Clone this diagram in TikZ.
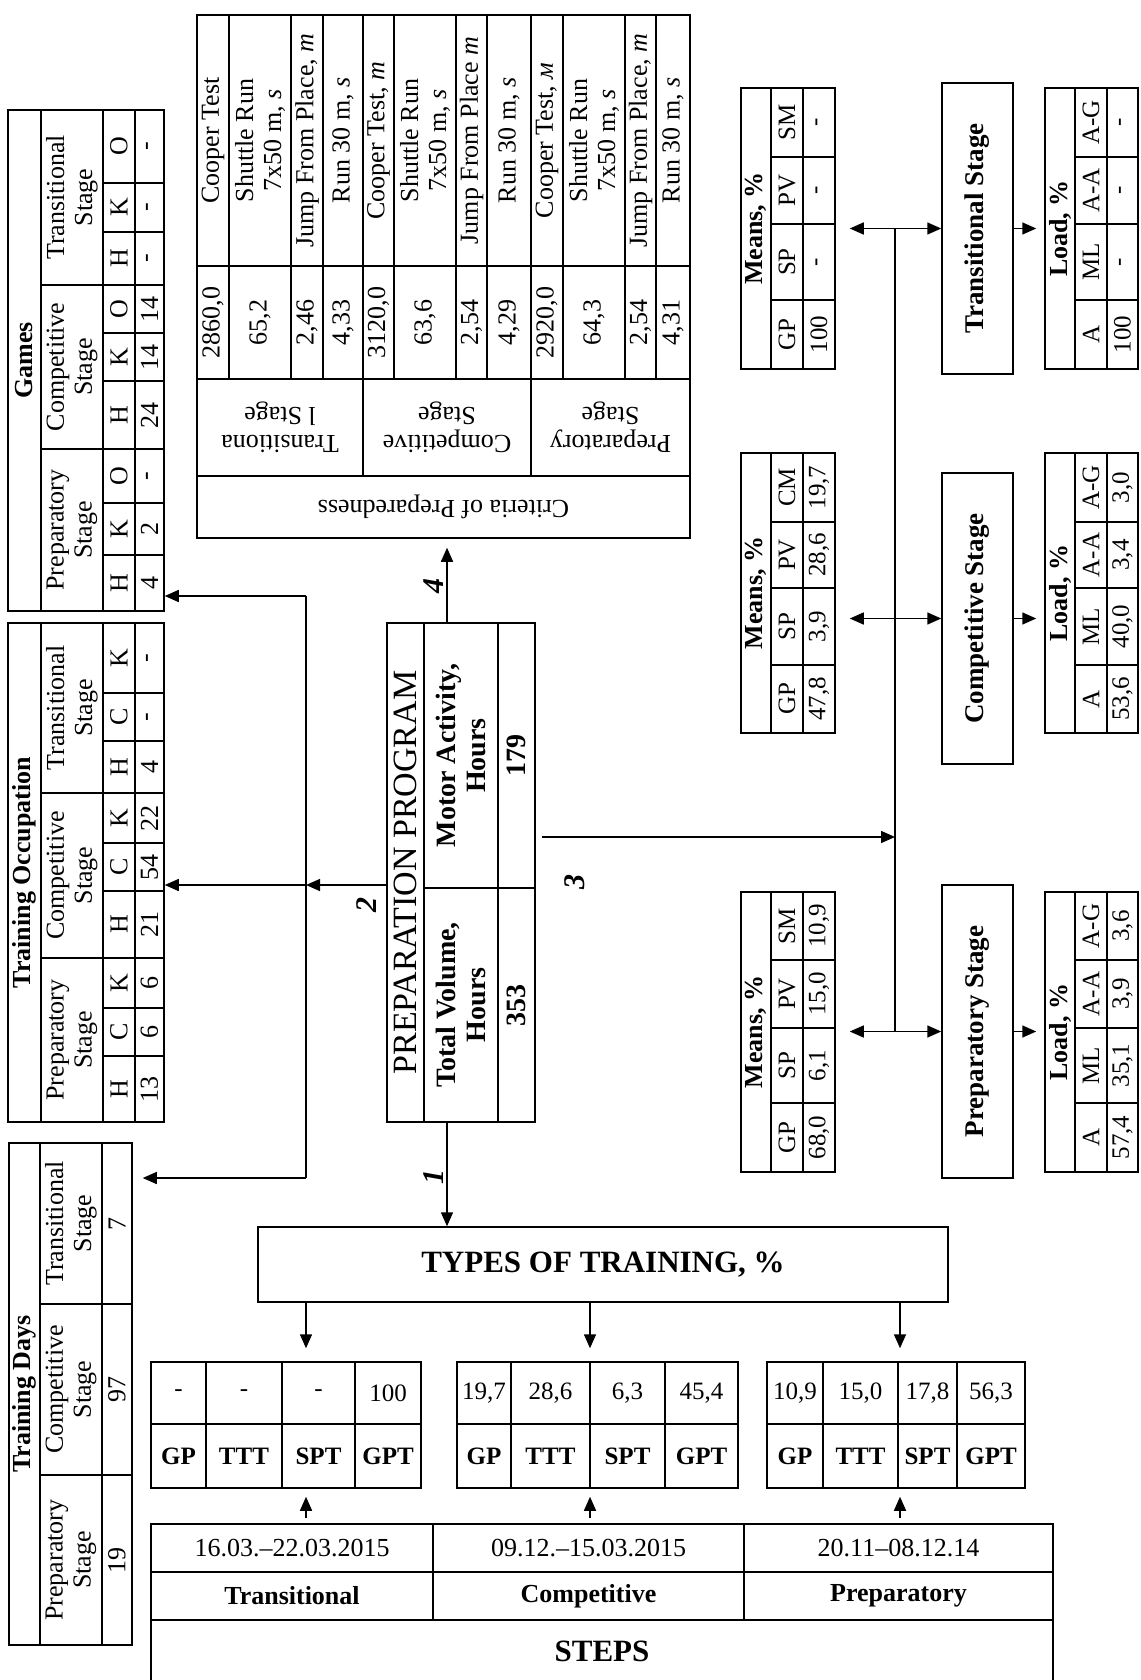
\documentclass[tikz,border=0pt]{standalone}
\usepackage{fontspec}
\setmainfont{Liberation Serif}
\usetikzlibrary{arrows.meta}

\begin{document}
\begin{tikzpicture}[x=1pt,y=-1pt,
    >={Triangle[length=14pt,width=12pt]},
    box/.style={draw,line width=1.5pt,inner sep=0pt},
    rule/.style={line width=1.5pt},
    txt/.style={inner sep=0pt,align=center,font=\fontsize{26}{28}\selectfont},
    hd/.style={txt,font=\fontsize{26}{28}\selectfont\bfseries},
    val/.style={txt,font=\fontsize{25}{27}\selectfont},
    lab/.style={txt,font=\fontsize{25}{27}\selectfont\bfseries},
    vert/.style={rotate=90},
    upside/.style={rotate=180},
    ppb/.style={txt,rotate=90,font=\fontsize{28}{30}\selectfont\bfseries},
    stg/.style={txt,rotate=90,font=\fontsize{27}{29}\selectfont\bfseries},
    link/.style={->,line width=1.5pt},
    dblarr/.style={<->,line width=1.5pt},
    bus/.style={line width=1.5pt},
    steplbl/.style={rotate=90,inner sep=0pt,font=\fontsize{30}{32}\selectfont\bfseries\itshape},
]
\useasboundingbox (0,0) rectangle (1140,1680);

% ================= left column: Games / Training Occupation / Training Days =================
\node[box,minimum width=156pt,minimum height=501pt] (games) at (86,360.5) {};
\draw[rule] (41,110) -- (41,611) (103,110) -- (103,611) (135,110) -- (135,611);
\draw[rule] (41,285) -- (164,285) (41,449) -- (164,449);
\foreach \y in {183,232,333,381,503,555} \draw[rule] (103,\y) -- (164,\y);
\node[hd,vert] (games-t) at (24.5,360.5) {Games};
\node[txt,vert] (games-s1) at (72,197.5) {Transitional\\Stage};
\node[txt,vert] (games-s2) at (72,367) {Competitive\\Stage};
\node[txt,vert] (games-s3) at (72,530) {Preparatory\\Stage};
\foreach \y/\l/\v [count=\i] in {146.5/O/-,207.5/K/-,258.5/H/-,309/O/14,357/K/14,415/H/24,476/O/-,529/K/2,583/H/4}{
  \node[txt,vert] (games-h\i) at (119,\y) {\l};
  \node[txt,vert] (games-v\i) at (149.5,\y) {\v};
}

\node[box,minimum width=156pt,minimum height=499pt] (occup) at (86,872.5) {};
\draw[rule] (41,623) -- (41,1122) (103,623) -- (103,1122) (135,623) -- (135,1122);
\draw[rule] (41,793) -- (164,793) (41,958) -- (164,958);
\foreach \y in {693,741,843,891,1008,1056} \draw[rule] (103,\y) -- (164,\y);
\node[hd,vert] (occup-t) at (24.5,872.5) {Training Occupation};
\node[txt,vert] (occup-s1) at (72,708) {Transitional\\Stage};
\node[txt,vert] (occup-s2) at (72,875.5) {Competitive\\Stage};
\node[txt,vert] (occup-s3) at (72,1040) {Preparatory\\Stage};
\foreach \y/\l/\v [count=\i] in {658/K/-,717/C/-,767/H/4,818/K/22,867/C/54,924.5/H/21,983/K/6,1032/C/6,1089/H/13}{
  \node[txt,vert] (occup-h\i) at (119,\y) {\l};
  \node[txt,vert] (occup-v\i) at (149.5,\y) {\v};
}

\node[box,minimum width=123pt,minimum height=502pt] (days) at (70.5,1394) {};
\draw[rule] (40,1143) -- (40,1645) (102,1143) -- (102,1645);
\draw[rule] (40,1304) -- (132,1304) (40,1475) -- (132,1475);
\node[hd,vert] (days-t) at (24.5,1394) {Training Days};
\foreach \y/\s/\v [count=\i] in {1223.5/Transitional/7,1389.5/Competitive/97,1560/Preparatory/19}{
  \node[txt,vert] (days-s\i) at (71,\y) {\s\\Stage};
  \node[txt,vert] (days-v\i) at (117,\y) {\v};
}

% ================= criteria of preparedness =================
\node[box,minimum width=493pt,minimum height=523pt] (crit) at (443.5,276.5) {};
\draw[rule] (197,266) -- (690,266) (197,379) -- (690,379) (197,476) -- (690,476);
\foreach \x in {229,291,323,394,456,487,563,625,656} \draw[rule] (\x,15) -- (\x,379);
\foreach \x in {363,531} \draw[rule] (\x,15) -- (\x,476);
\foreach \x/\t/\v [count=\i] in {
  213/{Cooper Test}/{2860,0},
  260/{Shuttle Run\\7x50 m, \textit{s}}/{65,2},
  307/{Jump From Place, \textit{m}}/{2,46},
  343/{Run 30 m, \textit{s}}/{4,33},
  378.5/{Cooper Test, \textit{m}}/{3120,0},
  425/{Shuttle Run\\7x50 m, \textit{s}}/{63,6},
  471.5/{Jump From Place \textit{m}}/{2,54},
  509/{Run 30 m, \textit{s}}/{4,29},
  547/{Cooper Test, \textit{м}}/{2920,0},
  594/{Shuttle Run\\7x50 m, \textit{s}}/{64,3},
  640.5/{Jump From Place, \textit{m}}/{2,54},
  673/{Run 30 m, \textit{s}}/{4,31}}{
  \node[txt,vert] (crit-n\i) at (\x,140.5) {\t};
  \node[txt,vert] (crit-v\i) at (\x,322.5) {\v};
}
\node[txt,upside] (crit-s1) at (280,427.5) {Transitiona\\l Stage};
\node[txt,upside] (crit-s2) at (447,427.5) {Competitive\\Stage};
\node[txt,upside] (crit-s3) at (610.5,427.5) {Preparatory\\Stage};
\node[txt,upside] (crit-t) at (443.5,507) {Criteria of Preparedness};

% ================= preparation program =================
\node[box,minimum width=148pt,minimum height=499pt] (pp) at (461,872.5) {};
\draw[rule] (424,623) -- (424,1122) (498,623) -- (498,1122) (424,888) -- (535,888);
\node[vert,inner sep=0pt,font=\fontsize{34}{36}\selectfont] (pp-t) at (405.5,872.5) {PREPARATION PROGRAM};
\node[ppb] (pp-h1) at (461,755.5) {Motor Activity,\\Hours};
\node[ppb] (pp-v1) at (516.5,755.5) {179};
\node[ppb] (pp-h2) at (461,1005) {Total Volume,\\Hours};
\node[ppb] (pp-v2) at (516.5,1005) {353};

% ================= means / stages / load =================
\node[box,minimum width=94pt,minimum height=281pt] (meansT) at (788,228.5) {};
\draw[rule] (771,88) -- (771,369) (803,88) -- (803,369);
\foreach \y in {157,224,300} \draw[rule] (771,\y) -- (835,\y);
\node[hd,vert] (meansT-t) at (756,228.5) {Means, \%};
\foreach \y/\h/\v [count=\i] in {122.5/SM/-,190.5/PV/-,262/SP/-,334.5/GP/100}{
  \node[val,vert] (meansT-h\i) at (787,\y) {\h};
  \node[val,vert] (meansT-v\i) at (819,\y) {\v};
}

\node[box,minimum width=94pt,minimum height=280pt] (meansC) at (788,593) {};
\draw[rule] (771,453) -- (771,733) (803,453) -- (803,733);
\foreach \y in {522,588,665} \draw[rule] (771,\y) -- (835,\y);
\node[hd,vert] (meansC-t) at (756,593) {Means, \%};
\foreach \y/\h/\v [count=\i] in {487.5/CM/{19,7},555/PV/{28,6},626.5/SP/{3,9},699/GP/{47,8}}{
  \node[val,vert] (meansC-h\i) at (787,\y) {\h};
  \node[val,vert] (meansC-v\i) at (819,\y) {\v};
}

\node[box,minimum width=94pt,minimum height=280pt] (meansP) at (788,1032) {};
\draw[rule] (771,892) -- (771,1172) (803,892) -- (803,1172);
\foreach \y in {960,1028,1103} \draw[rule] (771,\y) -- (835,\y);
\node[hd,vert] (meansP-t) at (756,1032) {Means, \%};
\foreach \y/\h/\v [count=\i] in {926/SM/{10,9},994/PV/{15,0},1065.5/SP/{6,1},1137.5/GP/{68,0}}{
  \node[val,vert] (meansP-h\i) at (787,\y) {\h};
  \node[val,vert] (meansP-v\i) at (819,\y) {\v};
}

\node[box,minimum width=71pt,minimum height=291pt] (stageT) at (977.5,228.5) {};
\node[stg] (stageT-t) at (stageT) {Transitional Stage};
\node[box,minimum width=71pt,minimum height=291pt] (stageC) at (977.5,618.5) {};
\node[stg] (stageC-t) at (stageC) {Competitive Stage};
\node[box,minimum width=71pt,minimum height=293pt] (stageP) at (977.5,1031.5) {};
\node[stg] (stageP-t) at (stageP) {Preparatory Stage};

\node[box,minimum width=93pt,minimum height=281pt] (loadT) at (1091.5,228.5) {};
\draw[rule] (1075,88) -- (1075,369) (1107,88) -- (1107,369);
\foreach \y in {157,224,300} \draw[rule] (1075,\y) -- (1138,\y);
\node[hd,vert] (loadT-t) at (1060,228.5) {Load, \%};
\foreach \y/\h/\v [count=\i] in {122.5/A-G/-,190.5/A-A/-,262/ML/-,334.5/A/100}{
  \node[val,vert] (loadT-h\i) at (1091,\y) {\h};
  \node[val,vert] (loadT-v\i) at (1122.5,\y) {\v};
}

\node[box,minimum width=93pt,minimum height=280pt] (loadC) at (1091.5,593) {};
\draw[rule] (1075,453) -- (1075,733) (1107,453) -- (1107,733);
\foreach \y in {522,588,665} \draw[rule] (1075,\y) -- (1138,\y);
\node[hd,vert] (loadC-t) at (1060,593) {Load, \%};
\foreach \y/\h/\v [count=\i] in {487.5/A-G/{3,0},555/A-A/{3,4},626.5/ML/{40,0},699/A/{53,6}}{
  \node[val,vert] (loadC-h\i) at (1091,\y) {\h};
  \node[val,vert] (loadC-v\i) at (1122.5,\y) {\v};
}

\node[box,minimum width=93pt,minimum height=280pt] (loadP) at (1091.5,1032) {};
\draw[rule] (1075,892) -- (1075,1172) (1107,892) -- (1107,1172);
\foreach \y in {960,1028,1103} \draw[rule] (1075,\y) -- (1138,\y);
\node[hd,vert] (loadP-t) at (1060,1032) {Load, \%};
\foreach \y/\h/\v [count=\i] in {926/A-G/{3,6},994/A-A/{3,9},1065.5/ML/{35,1},1137.5/A/{57,4}}{
  \node[val,vert] (loadP-h\i) at (1091,\y) {\h};
  \node[val,vert] (loadP-v\i) at (1122.5,\y) {\v};
}

% ================= types of training and steps =================
\node[box,minimum width=690pt,minimum height=75pt,font=\fontsize{31}{33}\selectfont\bfseries] (types) at (603,1264.5) {TYPES OF TRAINING, \%};

\node[box,minimum width=270pt,minimum height=126pt] (smallT) at (286,1425) {};
\draw[rule] (151,1424) -- (421,1424);
\foreach \x in {206,282,355} \draw[rule] (\x,1362) -- (\x,1488);
\foreach \x/\v/\l [count=\i] in {178.5/-/GP,244/-/TTT,318.5/-/SPT,388/100/GPT}{
  \node[val] (smallT-v\i) at (\x,1393) {\v};
  \node[lab] (smallT-l\i) at (\x,1456) {\l};
}

\node[box,minimum width=281pt,minimum height=126pt] (smallC) at (597.5,1425) {};
\draw[rule] (457,1424) -- (738,1424);
\foreach \x in {511,590,665} \draw[rule] (\x,1362) -- (\x,1488);
\foreach \x/\v/\l [count=\i] in {484/{19,7}/GP,550.5/{28,6}/TTT,627.5/{6,3}/SPT,701.5/{45,4}/GPT}{
  \node[val] (smallC-v\i) at (\x,1393) {\v};
  \node[lab] (smallC-l\i) at (\x,1456) {\l};
}

\node[box,minimum width=258pt,minimum height=126pt] (smallP) at (896,1425) {};
\draw[rule] (767,1424) -- (1025,1424);
\foreach \x in {823,898,957} \draw[rule] (\x,1362) -- (\x,1488);
\foreach \x/\v/\l [count=\i] in {795/{10,9}/GP,860.5/{15,0}/TTT,927.5/{17,8}/SPT,991/{56,3}/GPT}{
  \node[val] (smallP-v\i) at (\x,1393) {\v};
  \node[lab] (smallP-l\i) at (\x,1456) {\l};
}

\node[box,minimum width=902pt,minimum height=158pt] (steps) at (602,1603) {};
\draw[rule] (151,1572) -- (1053,1572) (151,1620) -- (1053,1620);
\draw[rule] (433,1524) -- (433,1620) (744,1524) -- (744,1620);
\foreach \x/\d/\n [count=\i] in {292/16.03.–22.03.2015/Transitional,588.5/09.12.–15.03.2015/Competitive,898.5/20.11–08.12.14/Preparatory}{
  \node[txt] (steps-d\i) at (\x,1548) {\d};
  \node[hd] (steps-n\i) at (\x,1596) {\n};
}
\node[inner sep=0pt,font=\fontsize{31}{33}\selectfont\bfseries] (steps-t) at (602,1651) {STEPS};

% ================= connectors =================
\coordinate (c1) at (447,0);
\draw[link,shorten >=9pt] (c1 |- pp.north) -- (c1 |- crit.south);
\draw[link] (c1 |- pp.south) -- (c1 |- types.north);

\coordinate (c2) at (306,885);
\coordinate (busG) at (306,596);
\coordinate (busD) at (306,1178);
\draw[bus] (busG) -- (busD);
\draw[link] (pp.west |- c2) -- (c2);
\draw[link] (c2) -- (occup.east |- c2);
\draw[link] (busG) -- (games.east |- busG);
\draw[link,shorten >=10pt] (busD) -- (days.east |- busD);

\coordinate (c3) at (895,837);
\draw[link] ([xshift=6pt]pp.east |- c3) -- (c3);
\draw[bus] (c3 |- stageT.west) -- (c3 |- stageP.west);
\foreach \s in {T,C,P}{
  \draw[dblarr,shorten <=14pt] (means\s.east |- stage\s.west) -- (stage\s.west);
  \draw[link,shorten >=8pt] (stage\s.east) -- (load\s.west |- stage\s.east);
}

\foreach \x/\s in {306/T,590/C,900/P}{
  \coordinate (ax\s) at (\x,0);
  \draw[link,shorten >=13pt] (ax\s |- types.south) -- (ax\s |- small\s.north);
  \draw[link,shorten <=5pt,shorten >=8pt] (ax\s |- steps.north) -- (ax\s |- small\s.south);
}

\node[steplbl] (lbl1) at (434,1177) {1};
\node[steplbl] (lbl2) at (367,905) {2};
\node[steplbl] (lbl3) at (575,882) {3};
\node[steplbl] (lbl4) at (434,586) {4};

\end{tikzpicture}
\end{document}
